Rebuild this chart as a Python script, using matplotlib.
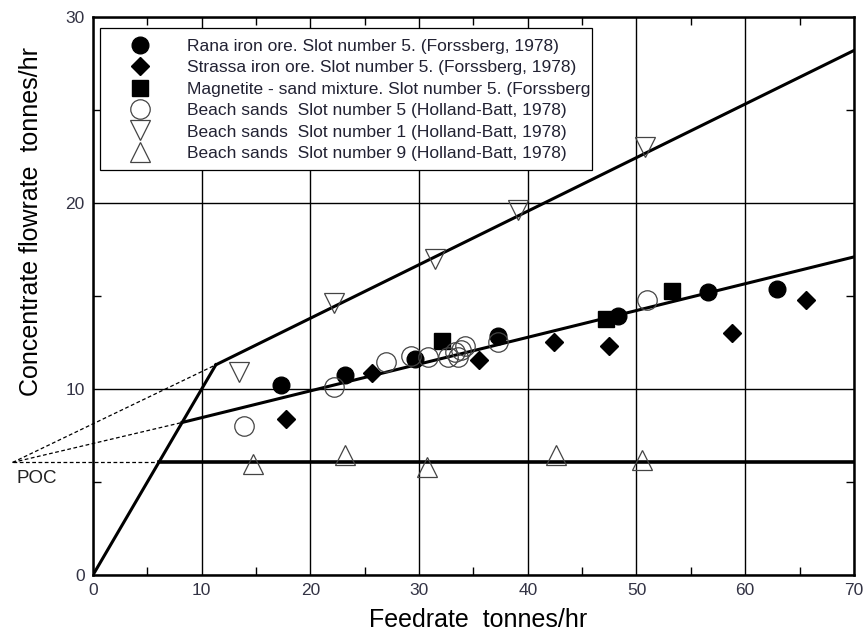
import numpy as np
import matplotlib.pyplot as plt
from matplotlib.patches import Rectangle

plt.rcParams['font.family'] = ['Liberation Sans', 'DejaVu Sans']

# data (feedrate, concentrate flowrate)
rana_x = [17.3, 23.2, 29.6, 37.3, 48.3, 56.6, 62.9]
rana_y = [10.2, 10.75, 11.6, 12.85, 13.9, 15.2, 15.4]

strassa_x = [17.8, 25.7, 35.5, 42.4, 47.5, 58.8, 65.6]
strassa_y = [8.4, 10.85, 11.55, 12.5, 12.3, 13.0, 14.8]

magn_x = [32.1, 47.2, 53.3]
magn_y = [12.6, 13.75, 15.25]

slot5_x = [13.9, 22.2, 27.0, 29.3, 30.8, 32.7, 33.3, 33.6, 33.9, 34.2, 37.3, 51.0]
slot5_y = [8.0, 10.1, 11.45, 11.8, 11.7, 11.7, 12.0, 11.7, 12.1, 12.3, 12.5, 14.8]

slot1_x = [13.4, 22.2, 31.5, 39.1, 50.8]
slot1_y = [10.9, 14.6, 17.0, 19.6, 23.0]

slot9_x = [14.7, 23.2, 30.7, 42.6, 50.5]
slot9_y = [5.95, 6.45, 5.8, 6.45, 6.2]

# model lines
poc = (-7.4, 6.05)
upper_x = [11.3, 70]
upper_y = [11.3, 28.2]
middle_x = [8.2, 70]
middle_y = [8.2, 17.1]
lower_x = [6.05, 70]
lower_y = [6.05, 6.05]

fig = plt.figure(figsize=(8.66, 6.4), dpi=100)
ax = fig.add_axes([0.1074, 0.1016, 0.8786, 0.8718])

# feed line y = x and the three flowrate lines
ax.plot([0, upper_x[0]], [0, upper_y[0]], color='black', lw=2.2, zorder=3)
ax.plot(upper_x, upper_y, color='black', lw=2.2, zorder=3)
ax.plot(middle_x, middle_y, color='black', lw=2.2, zorder=3)
ax.plot(lower_x, lower_y, color='black', lw=2.6, zorder=3)

# dashed extensions to POC
for xs, ys in [(upper_x, upper_y), (middle_x, middle_y), (lower_x, lower_y)]:
    ax.plot([poc[0], xs[0]], [poc[1], ys[0]], color='black', lw=0.9,
            ls=(0, (3, 2)), clip_on=False, zorder=3)
ax.text(poc[0] + 0.35, poc[1] - 0.4, 'POC', fontsize=13.5, ha='left', va='top',
        color='#222222')

ax.plot(rana_x, rana_y, 'o', ms=12, color='black', ls='none',
        label='Rana iron ore. Slot number 5. (Forssberg, 1978)', zorder=4)
ax.plot(strassa_x, strassa_y, 'D', ms=9, color='black', ls='none',
        label='Strassa iron ore. Slot number 5. (Forssberg, 1978)', zorder=4)
ax.plot(magn_x, magn_y, 's', ms=12, color='black', ls='none',
        label='Magnetite - sand mixture. Slot number 5. (Forssberg, 1978)', zorder=4)
ax.plot(slot5_x, slot5_y, 'o', ms=14, mfc='none', mec='#444444', mew=0.9, ls='none',
        label='Beach sands  Slot number 5 (Holland-Batt, 1978)', zorder=4)
ax.plot(slot1_x, slot1_y, 'v', ms=15, mfc='none', mec='#444444', mew=0.9, ls='none',
        label='Beach sands  Slot number 1 (Holland-Batt, 1978)', zorder=4)
ax.plot(slot9_x, slot9_y, '^', ms=15, mfc='none', mec='#444444', mew=0.9, ls='none',
        label='Beach sands  Slot number 9 (Holland-Batt, 1978)', zorder=4)

ax.set_xlim(0, 70)
ax.set_ylim(0, 30)
ax.set_xticks(np.arange(0, 71, 10))
ax.set_yticks(np.arange(0, 31, 10))
ax.set_xticks(np.arange(5, 70, 10), minor=True)
ax.set_yticks(np.arange(5, 30, 10), minor=True)
ax.grid(True, which='major', color='black', lw=1.0)
ax.tick_params(which='both', direction='in', top=True, right=True,
               labelsize=12.5, labelcolor='#333344')
ax.tick_params(which='major', length=0, pad=6)
ax.tick_params(which='minor', length=6, width=1)
for s in ax.spines.values():
    s.set_linewidth(1.8)

ax.set_xlabel('Feedrate  tonnes/hr', fontsize=18)
ax.set_ylabel('Concentrate flowrate  tonnes/hr', fontsize=18)
ax.xaxis.set_label_coords(0.506, -0.06)
ax.yaxis.set_label_coords(-0.066, 0.633)

# legend box is fixed; the long magnetite entry gets cut by it like in the original
box = Rectangle((0.0092, 0.7258), 0.6465, 0.2545, transform=ax.transAxes,
                facecolor='white', edgecolor='black', lw=0.9, zorder=5)
ax.add_patch(box)
leg = ax.legend(loc='upper left', bbox_to_anchor=(0.0092, 0.9803), fontsize=12.5,
                frameon=False, handletextpad=1.03, handlelength=3.35, borderpad=0.62,
                labelspacing=0.36, borderaxespad=0)
leg.set_zorder(6)
for t in leg.get_texts():
    t.set_color('#222233')
    t.set_clip_path(box)

fig.savefig('out.png', dpi=100)
